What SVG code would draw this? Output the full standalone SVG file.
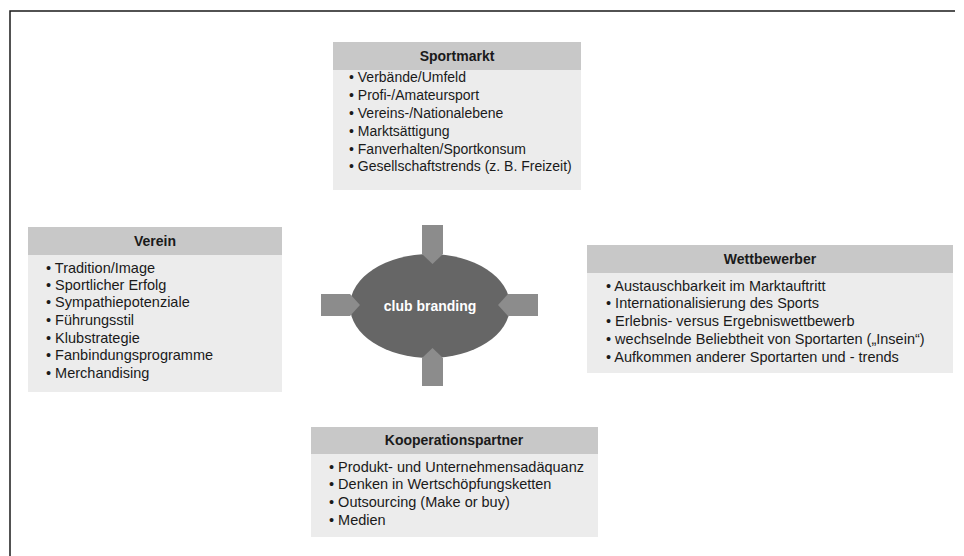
<svg xmlns="http://www.w3.org/2000/svg" width="964" height="556" viewBox="0 0 964 556">
<style>
.hd{fill:#c8c8c8}
.bd{fill:#ececec}
.ht{font-family:"Liberation Sans",Arial,sans-serif;font-size:14px;font-weight:bold;fill:#1a1a1a;text-anchor:middle}
.t{font-family:"Liberation Sans",Arial,sans-serif;font-size:14.5px;fill:#1a1a1a}
.ts{font-size:14px}
.arr{fill:#8c8c8c}
.frame{stroke:#1a1a1a;stroke-width:1.5;fill:none}
</style>
<rect width="964" height="556" fill="#fff"/>
<path class="frame" d="M10,556 V11 H955"/>

<g id="sportmarkt">
<rect class="bd" x="333" y="42" width="248" height="148"/>
<rect class="hd" x="333" y="42" width="248" height="28"/>
<text class="ht" x="457" y="61">Sportmarkt</text>
<text class="t ts" x="349" y="82">• Verbände/Umfeld</text>
<text class="t ts" x="349" y="100">• Profi-/Amateursport</text>
<text class="t ts" x="349" y="118">• Vereins-/Nationalebene</text>
<text class="t ts" x="349" y="136">• Marktsättigung</text>
<text class="t ts" x="349" y="154">• Fanverhalten/Sportkonsum</text>
<text class="t ts" x="349" y="171">• Gesellschaftstrends (z. B. Freizeit)</text>
</g>

<g id="verein">
<rect class="bd" x="28" y="227" width="254" height="165"/>
<rect class="hd" x="28" y="227" width="254" height="28"/>
<text class="ht" x="155" y="246">Verein</text>
<text class="t" x="46" y="273">• Tradition/Image</text>
<text class="t" x="46" y="290">• Sportlicher Erfolg</text>
<text class="t" x="46" y="307">• Sympathiepotenziale</text>
<text class="t" x="46" y="325">• Führungsstil</text>
<text class="t" x="46" y="343">• Klubstrategie</text>
<text class="t" x="46" y="360">• Fanbindungsprogramme</text>
<text class="t" x="46" y="378">• Merchandising</text>
</g>

<g id="wettbewerber">
<rect class="bd" x="587" y="245" width="366" height="128"/>
<rect class="hd" x="587" y="245" width="366" height="28"/>
<text class="ht" x="770" y="264">Wettbewerber</text>
<text class="t" x="606" y="291">• Austauschbarkeit im Marktauftritt</text>
<text class="t" x="606" y="308">• Internationalisierung des Sports</text>
<text class="t" x="606" y="326">• Erlebnis- versus Ergebniswettbewerb</text>
<text class="t" x="606" y="344">• wechselnde Beliebtheit von Sportarten („Insein“)</text>
<text class="t" x="606" y="362">• Aufkommen anderer Sportarten und - trends</text>
</g>

<g id="kooperationspartner">
<rect class="bd" x="311" y="427" width="287" height="110"/>
<rect class="hd" x="311" y="427" width="287" height="27"/>
<text class="ht" x="454" y="445">Kooperationspartner</text>
<text class="t" x="329" y="472">• Produkt- und Unternehmensadäquanz</text>
<text class="t" x="329" y="489">• Denken in Wertschöpfungsketten</text>
<text class="t" x="329" y="507">• Outsourcing (Make or buy)</text>
<text class="t" x="329" y="525">• Medien</text>
</g>

<g id="club-branding">
<ellipse cx="430" cy="306" rx="80" ry="52" fill="#666666"/>
<text x="430" y="311" font-family="'Liberation Sans',Arial,sans-serif" font-size="14" font-weight="bold" fill="#ffffff" text-anchor="middle">club branding</text>
</g>

<g id="connectors">
<polygon class="arr" points="422,225 443,225 443,254 432.5,264 422,254"/>
<polygon class="arr" points="422,386 443,386 443,358 432.5,348 422,358"/>
<polygon class="arr" points="321,294 350,294 360,305 350,316 321,316"/>
<polygon class="arr" points="538,294 508,294 498,305 508,316 538,316"/>
</g>
</svg>
